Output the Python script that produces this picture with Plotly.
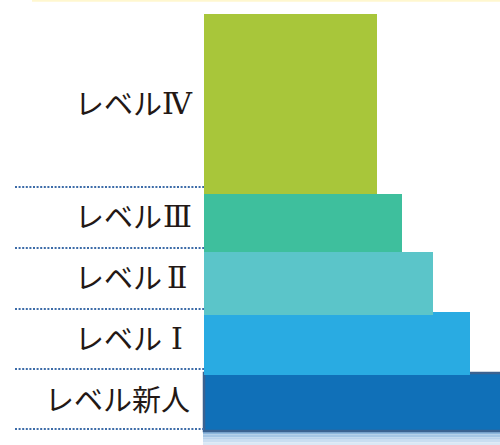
import plotly.graph_objects as go

# ---- data (bottom to top) ----
levels = ["レベル新人", "レベルⅠ", "レベルⅡ", "レベルⅢ", "レベルⅣ"]
bar_length = [300, 266, 229, 198, 173]      # horizontal extent of each step
bar_bottom = [431, 375, 315, 252, 194]      # lower edge of each step
bar_top = [373, 312, 252, 194, 14]          # upper edge of each step
colors = ["#1070B8", "#29ABE2", "#5BC5C9", "#3EBF9D", "#A8C63A"]

# row separators for the label column (dotted lines)
row_lines = [429, 369, 309, 248, 187]
label_y = [398, 337, 276, 215, 102]

fig = go.Figure()

# soft shadow under the base bar
shadow_cols = ["#8DB6DC", "#A4C5E4", "#B8D2EB", "#CADEF1", "#DAE8F5"]
for i, c in enumerate(shadow_cols):
    fig.add_shape(type="rect", xref="x", yref="y", x0=-1, x1=300,
                  y0=432 + i * 2.6, y1=432 + (i + 1) * 2.6,
                  fillcolor=c, line_width=0, layer="below")

for i, (lv, L, b, t, c) in enumerate(zip(levels, bar_length, bar_bottom, bar_top, colors)):
    is_base = i == 0
    fig.add_trace(go.Bar(
        orientation="h",
        y=[(b + t) / 2],
        x=[L],
        base=0,
        width=[b - t],
        marker=dict(color=c,
                    line=dict(color="#3B6290" if is_base else c,
                              width=2.5 if is_base else 0)),
        name=lv,
        showlegend=False,
        hoverinfo="skip",
    ))

for y in row_lines:
    fig.add_shape(type="line", xref="x", yref="y", x0=-189, x1=0, y0=y, y1=y,
                  line=dict(color="#3D6CA8", width=2, dash="2px,1.6px"))

# top thin yellow rule
fig.add_shape(type="line", xref="x", yref="y", x0=-172, x1=300, y0=0.8, y1=0.8,
              line=dict(color="#FFF7CF", width=2))

roman = "ⅠⅡⅢⅣ"
jp_font = dict(family="Noto Sans CJK JP", size=29, color="#231815")
num_font = dict(family="DejaVu Serif", size=30, color="#231815")
for lv, y in zip(levels, label_y):
    if lv[-1] in roman:
        fig.add_annotation(x=-41, y=y, xref="x", yref="y", text=lv[:-1], showarrow=False,
                           xanchor="right", yanchor="middle", font=jp_font, borderpad=0)
        fig.add_annotation(x=-27, y=y + 1, xref="x", yref="y", text=lv[-1], showarrow=False,
                           xanchor="center", yanchor="middle", font=num_font, borderpad=0)
    else:
        fig.add_annotation(x=-13, y=y, xref="x", yref="y", text=lv, showarrow=False,
                           xanchor="right", yanchor="middle", font=jp_font, borderpad=0)

fig.update_layout(
    width=500, height=445,
    margin=dict(l=0, r=0, t=0, b=0),
    paper_bgcolor="white", plot_bgcolor="white",
    barmode="overlay",
    xaxis=dict(range=[-204, 296], visible=False, fixedrange=True),
    yaxis=dict(range=[445, 0], visible=False, fixedrange=True),
)

fig.write_html("out.html", config={"displayModeBar": False},
               post_script="document.body.style.margin='0';document.body.style.overflow='hidden';")
